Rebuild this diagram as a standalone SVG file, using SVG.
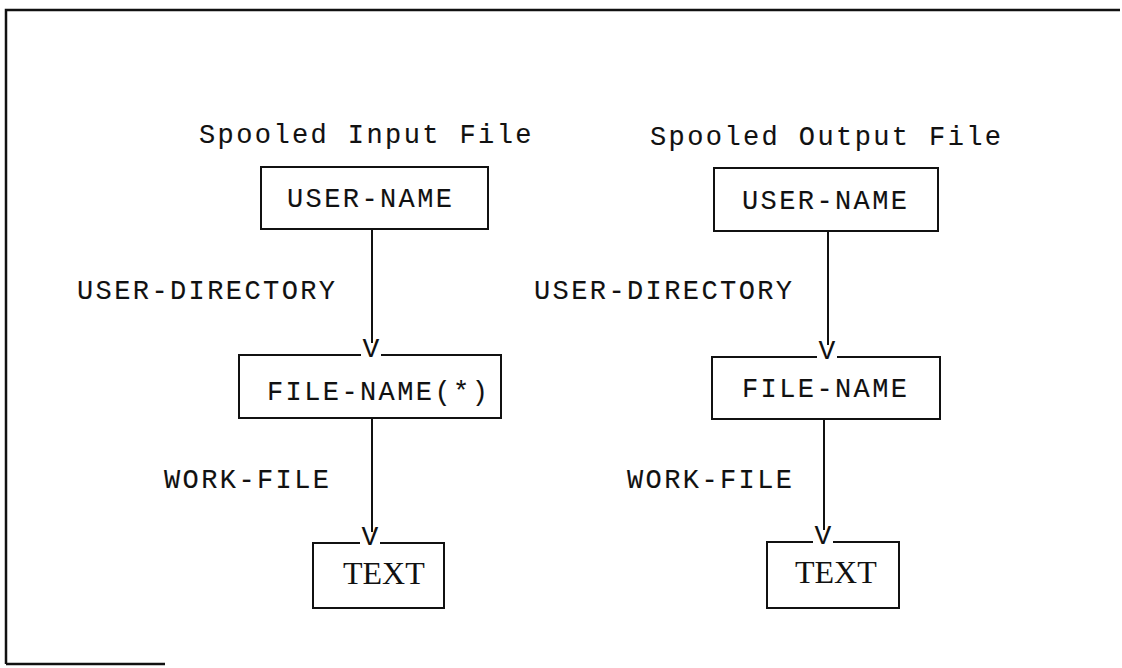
<svg xmlns="http://www.w3.org/2000/svg" width="1122" height="668" viewBox="0 0 1122 668">
<style>
  .t { font-family: "Liberation Mono", "Courier New", monospace; font-size: 27px; letter-spacing: 2.4px; fill: #111; stroke: #111; stroke-width: 0.1; }
  .big { font-family: "Liberation Serif", "Times New Roman", serif; font-size: 32px; fill: #111; }
  .v { font-family: "Liberation Mono", "Courier New", monospace; font-size: 28px; fill: #111; text-anchor: middle; }
  .box { fill: none; stroke: #111; stroke-width: 2; }
  .ln { fill: none; stroke: #111; stroke-width: 2; }
  .frame { fill: none; stroke: #111; stroke-width: 2.5; }
</style>
<rect width="1122" height="668" fill="#fff"/>
<g id="frame">
  <path class="frame" d="M6,664 L6,10 L1120,10"/>
  <path class="frame" d="M6,664 L165,664"/>
</g>
<g id="titles">
  <text class="t" x="199" y="143">Spooled Input File</text>
  <text class="t" x="650" y="145">Spooled Output File</text>
</g>
<g id="connectors">
  <line class="ln" x1="372" y1="229" x2="372" y2="343"/>
  <text class="v" x="371" y="357">V</text>
  <line class="ln" x1="372" y1="418" x2="372" y2="532"/>
  <text class="v" x="370" y="545">V</text>
  <line class="ln" x1="828" y1="231" x2="828" y2="345"/>
  <text class="v" x="827" y="359">V</text>
  <line class="ln" x1="824" y1="419" x2="824" y2="530"/>
  <text class="v" x="823" y="544">V</text>
  <text class="t" x="77" y="299">USER-DIRECTORY</text>
  <text class="t" x="534" y="299">USER-DIRECTORY</text>
  <text class="t" x="164" y="488">WORK-FILE</text>
  <text class="t" x="627" y="488">WORK-FILE</text>
</g>
<g id="in-user-name">
  <rect class="box" x="261" y="167" width="227" height="62"/>
  <text class="t" x="287" y="207">USER-NAME</text>
</g>
<g id="in-file-name">
  <path class="box" d="M361,355 L239,355 L239,418 L501,418 L501,355 L381,355"/>
  <text class="t" x="267" y="400">FILE-NAME(*)</text>
</g>
<g id="in-text">
  <path class="box" d="M360,543 L313,543 L313,608 L444,608 L444,543 L380,543"/>
  <text class="big" x="343" y="584">TEXT</text>
</g>
<g id="out-user-name">
  <rect class="box" x="714" y="168" width="224" height="63"/>
  <text class="t" x="742" y="209">USER-NAME</text>
</g>
<g id="out-file-name">
  <path class="box" d="M817,357 L712,357 L712,419 L940,419 L940,357 L837,357"/>
  <text class="t" x="742" y="397">FILE-NAME</text>
</g>
<g id="out-text">
  <path class="box" d="M813,542 L767,542 L767,608 L899,608 L899,542 L833,542"/>
  <text class="big" x="795" y="583">TEXT</text>
</g>
</svg>
